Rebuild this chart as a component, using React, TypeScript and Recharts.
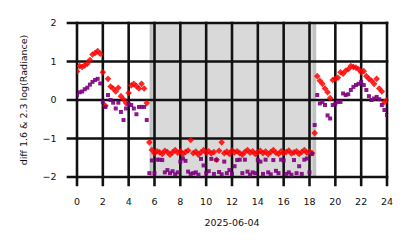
import { ScatterChart, Scatter, XAxis, YAxis, ReferenceArea } from 'recharts';

// hours of the day, one reading every 12 minutes
const hours = [
  0, 0.2, 0.4, 0.6, 0.8, 1, 1.2, 1.4, 1.6, 1.8,
  2, 2.2, 2.4, 2.6, 2.8, 3, 3.2, 3.4, 3.6, 3.8,
  4, 4.2, 4.4, 4.6, 4.8, 5, 5.2, 5.4, 5.6, 5.8,
  6, 6.2, 6.4, 6.6, 6.8, 7, 7.2, 7.4, 7.6, 7.8,
  8, 8.2, 8.4, 8.6, 8.8, 9, 9.2, 9.4, 9.6, 9.8,
  10, 10.2, 10.4, 10.6, 10.8, 11, 11.2, 11.4, 11.6, 11.8,
  12, 12.2, 12.4, 12.6, 12.8, 13, 13.2, 13.4, 13.6, 13.8,
  14, 14.2, 14.4, 14.6, 14.8, 15, 15.2, 15.4, 15.6, 15.8,
  16, 16.2, 16.4, 16.6, 16.8, 17, 17.2, 17.4, 17.6, 17.8,
  18, 18.2, 18.4, 18.6, 18.8, 19, 19.2, 19.4, 19.6, 19.8,
  20, 20.2, 20.4, 20.6, 20.8, 21, 21.2, 21.4, 21.6, 21.8,
  22, 22.2, 22.4, 22.6, 22.8, 23, 23.2, 23.4, 23.6, 23.8,
  24,
];

// diff 1.6 (red diamonds)
const diff16 = [
  0.74, 0.88, 0.86, 0.9, 0.94, 1.04, 1.18, 1.22, 1.27, 1.2,
  0.72, -0.15, 0.55, 0.35, 0.3, 0.22, 0.32, 0.1, 0.02, -0.08,
  0.18, 0.38, 0.42, 0.36, 0.3, 0.42, 0.3, -0.08, -1.1, -1.3,
  -1.38, -1.33, -1.36, -1.4, -1.32, -1.35, -1.42, -1.36, -1.3, -1.37,
  -1.33, -1.4, -1.35, -1.31, -1.04, -1.38, -1.34, -1.42, -1.36, -1.3,
  -1.37, -1.33, -1.39, -1.35, -1.55, -1.32, -1.1, -1.38, -1.34, -1.4,
  -1.31, -1.36, -1.33, -1.38, -1.42, -1.35, -1.3, -1.37, -1.33, -1.4,
  -1.36, -1.32, -1.38, -1.34, -1.41, -1.35, -1.3, -1.37, -1.4, -1.33,
  -1.38, -1.35, -1.31, -1.39, -1.36, -1.33, -1.4, -1.35, -1.3, -1.37,
  -1.34, -1.38, -0.86, 0.62, 0.5, 0.42, 0.3, 0.2, 0.05, 0.52,
  0.55, 0.58, 0.72, 0.68, 0.76, 0.8, 0.88, 0.86, 0.84, 0.8,
  0.72, 0.75, 0.62, 0.55, 0.5, 0.42, 0.55, 0.3, 0.22, -0.05,
  0.0,
];

// diff 2.3 (purple squares)
const diff23 = [
  0.13, 0.2, 0.22, 0.28, 0.32, 0.4, 0.47, 0.52, 0.55, 0.43,
  -0.05, -0.18, 0.13, 0.0, -0.07, -0.22, -0.07, -0.31, -0.52, -0.22,
  -0.1, -0.13, -0.22, -0.37, -0.18, -0.18, -0.18, -0.52, -1.9, -1.57,
  -1.9, -1.55, -1.55, -1.56, -1.88, -1.82, -1.9, -1.85, -1.93, -1.88,
  -1.6, -1.52, -1.58, -1.86, -1.92, -1.9, -1.88, -1.94, -1.53, -1.7,
  -1.9, -1.85, -1.53, -1.92, -1.56, -1.87, -1.93, -1.6, -1.9, -1.82,
  -1.92, -1.72, -1.56, -1.55, -1.9, -1.55, -1.86, -1.94, -1.88, -1.9,
  -1.56, -1.6, -1.92, -1.55, -1.88, -1.93, -1.56, -1.84, -1.9, -1.55,
  -1.57, -1.92, -1.88, -1.94, -1.56, -1.9, -1.72, -1.92, -1.55, -1.52,
  -1.88, -1.4, -0.65, 0.13, -0.09, -0.05, -0.13, -0.4, -0.48, -0.13,
  -0.1, -0.05, -0.05, 0.17, 0.13, 0.15, 0.26, 0.34, 0.39, 0.42,
  0.47, 0.39, 0.26, 0.1, 0.0, 0.04, 0.08, 0.02, -0.13, -0.26,
  -0.39,
];

const xTicks = [0, 2, 4, 6, 8, 10, 12, 14, 16, 18, 20, 22, 24];
const yTicks = [-2, -1, 0, 1, 2];

// shaded night interval and its twilight edges
const nightStart = 5.63;
const nightEnd = 18.53;
const dawnEdge = 5.86;
const duskEdge = 18.25;

const ink = '#111111';
const font = { fontFamily: 'DejaVu Sans', fontSize: 9.5, fill: ink };

// grid line half widths and tick lengths, in data units
const halfX = 0.1;
const halfY = 0.034;
const tickDown = 2.24;
const tickLeft = -0.8;

const redData = hours.map((h, i) => ({ h, v: diff16[i] }));
const purpleData = hours.map((h, i) => ({ h, v: diff23[i] }));

const Diamond = (props: any) => {
  const { cx, cy } = props;
  const r = 3.3;
  return (
    <polygon
      points={`${cx},${cy - r} ${cx + r},${cy} ${cx},${cy + r} ${cx - r},${cy}`}
      fill="#ff0000"
      fillOpacity={0.85}
    />
  );
};

const Square = (props: any) => {
  const { cx, cy } = props;
  return <rect x={cx - 2} y={cy - 2} width={4} height={4} fill="#800080" fillOpacity={0.9} />;
};

const fmt = (v: number) => (v < 0 ? `\u2212${Math.abs(v)}` : `${v}`);

// one grid line (plus its tick mark) as a thin filled area
const vGrid = (t: number) => (
  <ReferenceArea
    x1={t - halfX}
    x2={t + halfX}
    y1={-tickDown}
    y2={2 + halfY}
    ifOverflow="visible"
    fill={ink}
    fillOpacity={1}
    stroke="none"
  />
);

const hGrid = (t: number) => (
  <ReferenceArea
    x1={tickLeft}
    x2={24 + halfX}
    y1={t - halfY}
    y2={t + halfY}
    ifOverflow="visible"
    fill={ink}
    fillOpacity={1}
    stroke="none"
  />
);

export default function App() {
  return (
    <div style={{ position: 'absolute', left: 0, top: 0, width: 414, height: 248, background: '#fff' }}>
      <ScatterChart width={414} height={248} margin={{ top: 23, right: 27, bottom: 21, left: 0 }}>
        <ReferenceArea x1={nightStart} x2={nightEnd} y1={-2} y2={2} fill="#d9d9d9" fillOpacity={1} stroke="none" />
        <ReferenceArea x1={nightStart} x2={dawnEdge} y1={-2} y2={2} fill="#c2c2c2" fillOpacity={1} stroke="none" />
        <ReferenceArea x1={duskEdge} x2={nightEnd - 0.03} y1={-2} y2={2} fill="#c2c2c2" fillOpacity={1} stroke="none" />
        {vGrid(xTicks[0])}
        {vGrid(xTicks[1])}
        {vGrid(xTicks[2])}
        {vGrid(xTicks[3])}
        {vGrid(xTicks[4])}
        {vGrid(xTicks[5])}
        {vGrid(xTicks[6])}
        {vGrid(xTicks[7])}
        {vGrid(xTicks[8])}
        {vGrid(xTicks[9])}
        {vGrid(xTicks[10])}
        {vGrid(xTicks[11])}
        {vGrid(xTicks[12])}
        {hGrid(yTicks[0])}
        {hGrid(yTicks[1])}
        {hGrid(yTicks[2])}
        {hGrid(yTicks[3])}
        {hGrid(yTicks[4])}
        <XAxis
          dataKey="h"
          type="number"
          domain={[0, 24]}
          ticks={xTicks}
          allowDataOverflow
          height={50}
          axisLine={false}
          tickLine={false}
          tickSize={9}
          tickMargin={12}
          tick={font}
          label={{
            content: (p: any) => (
              <text x={p.viewBox.x + p.viewBox.width / 2} y={226} textAnchor="middle" {...font}>
                2025-06-04
              </text>
            ),
          }}
        />
        <YAxis
          dataKey="v"
          type="number"
          domain={[-2, 2]}
          ticks={yTicks}
          allowDataOverflow
          width={77}
          axisLine={false}
          tickLine={false}
          tickSize={10}
          tickMargin={10.5}
          tick={font}
          tickFormatter={fmt}
          label={{
            content: (p: any) => {
              const x = 23;
              const y = p.viewBox.y + p.viewBox.height / 2;
              return (
                <text x={x} y={y} transform={`rotate(-90 ${x} ${y})`} textAnchor="middle" dominantBaseline="central" {...font}>
                  diff 1.6 &amp; 2.3  log(Radiance)
                </text>
              );
            },
          }}
        />
        <Scatter data={redData} shape={<Diamond />} isAnimationActive={false} />
        <Scatter data={purpleData} shape={<Square />} isAnimationActive={false} />
      </ScatterChart>
    </div>
  );
}
